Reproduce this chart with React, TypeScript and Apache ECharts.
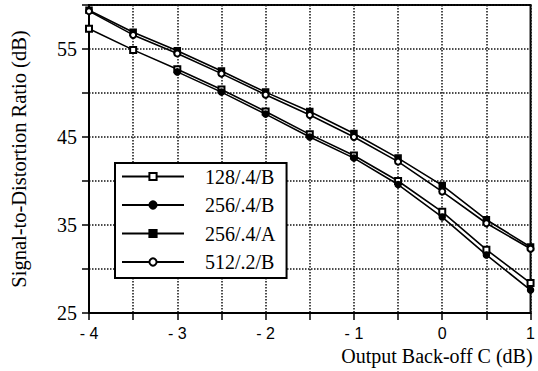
import React, { useEffect, useRef } from "react";
import * as echarts from "echarts";

const xValues = [-4, -3.5, -3, -2.5, -2, -1.5, -1, -0.5, 0, 0.5, 1];
const s128_4_B = [57.3, 54.9, 52.7, 50.4, 47.9, 45.3, 42.9, 40.0, 36.5, 32.2, 28.4];
const s256_4_B = [null, null, 52.4, 50.1, 47.6, 45.0, 42.6, 39.6, 35.9, 31.6, 27.6];
const s256_4_A = [59.4, 56.9, 54.8, 52.5, 50.1, 47.9, 45.4, 42.6, 39.5, 35.6, 32.5];
const s512_2_B = [59.3, 56.6, 54.5, 52.2, 49.8, 47.5, 45.0, 42.2, 38.8, 35.2, 32.3];
const yTickLabels = [25, 35, 45, 55];
const xTickLabels = [-4, -3, -2, -1, 0, 1];

const seriesDefs = [
  { name: "128/.4/B", data: s128_4_B, symbol: "emptyRect" },
  { name: "256/.4/B", data: s256_4_B, symbol: "circle" },
  { name: "256/.4/A", data: s256_4_A, symbol: "rect" },
  { name: "512/.2/B", data: s512_2_B, symbol: "emptyCircle" },
];

const serif = "Liberation Serif";
const sans = "Liberation Sans";

export default function App() {
  const ref = useRef<HTMLDivElement>(null);
  useEffect(() => {
    if (!ref.current) return;
    const chart = echarts.init(ref.current, null, { renderer: "svg" });
    chart.setOption({
      animation: false,
      backgroundColor: "#fff",
      grid: {
        left: 88,
        right: 5,
        top: 5,
        bottom: 58,
        show: true,
        borderColor: "#000",
        borderWidth: 2,
      },
      legend: {
        orient: "vertical",
        left: 115,
        top: 163,
        itemWidth: 62,
        itemHeight: 9,
        itemGap: 8.5,
        padding: [3.5, 11, 6, 6],
        borderColor: "#000",
        borderWidth: 2,
        backgroundColor: "#fff",
        textStyle: {
          fontFamily: serif,
          fontSize: 20,
          color: "#000",
          padding: [0, 0, 0, 16],
        },
        data: seriesDefs.map((s) => s.name),
      },
      xAxis: {
        type: "value",
        min: -4,
        max: 1,
        interval: 0.5,
        name: "Output Back-off C (dB)",
        nameLocation: "end",
        nameGap: 2,
        nameTextStyle: {
          fontFamily: serif,
          fontSize: 20,
          color: "#000",
          align: "right",
          verticalAlign: "top",
          padding: [33, 0, 0, 0],
        },
        axisLine: { show: true, onZero: false, lineStyle: { color: "#000", width: 2 } },
        axisTick: { show: true, inside: false, length: 7, lineStyle: { color: "#000", width: 1.5 } },
        axisLabel: {
          fontFamily: sans,
          fontSize: 16,
          color: "#000",
          margin: 12,
          formatter: (v: number) => {
            if (!xTickLabels.includes(v)) return "";
            return v < 0 ? "- " + Math.abs(v) : String(v);
          },
        },
        splitLine: { show: true, lineStyle: { color: "#111", type: "dotted", width: 1.5 } },
      },
      yAxis: {
        type: "value",
        min: 25,
        max: 60,
        interval: 5,
        name: "Signal-to-Distortion Ratio (dB)",
        nameLocation: "middle",
        nameGap: 60,
        nameTextStyle: {
          fontFamily: serif,
          fontSize: 20.5,
          color: "#000",
        },
        axisLine: { show: true, onZero: false, lineStyle: { color: "#000", width: 2 } },
        axisTick: { show: true, inside: false, length: 7, lineStyle: { color: "#000", width: 1.5 } },
        axisLabel: {
          fontFamily: serif,
          fontSize: 20,
          color: "#000",
          margin: 12,
          formatter: (v: number) => (yTickLabels.includes(v) ? String(v) : ""),
        },
        splitLine: { show: true, lineStyle: { color: "#111", type: "dotted", width: 1.5 } },
      },
      series: seriesDefs.map((s) => ({
        name: s.name,
        type: "line",
        data: xValues.map((x, i) => [x, s.data[i]]),
        symbol: s.symbol,
        symbolSize: 6,
        connectNulls: false,
        lineStyle: { color: "#000", width: 1.6 },
        itemStyle: { color: "#000", borderColor: "#000", borderWidth: 1.5 },
      })),
    });
    return () => chart.dispose();
  }, []);
  return <div ref={ref} style={{ width: 538, height: 371, position: "absolute", left: 0, top: 0 }} />;
}
